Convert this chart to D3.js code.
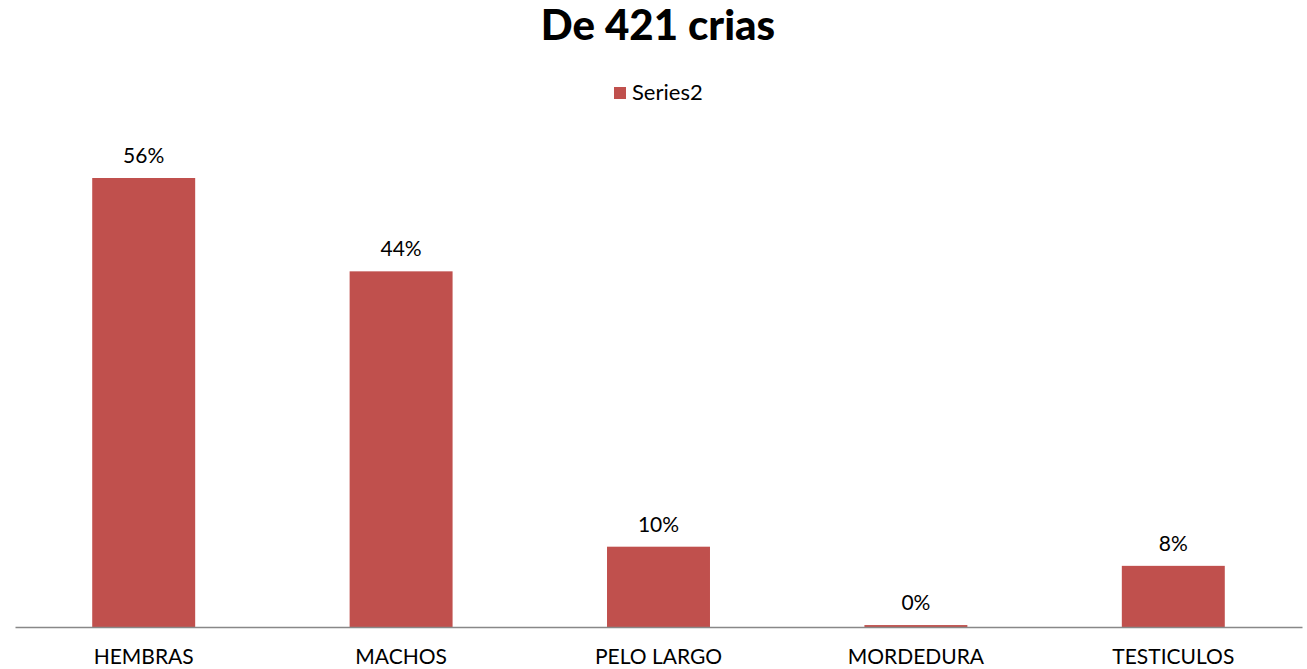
<!DOCTYPE html>
<html>
<head>
<meta charset="utf-8">
<script src="https://cdn.jsdelivr.net/npm/d3@7"></script>
<style>
  body { margin: 0; background: #fff; }
  svg text { font-family: "Lato", "Open Sans", sans-serif; fill: #000; }
</style>
</head>
<body>
<script>
var categories = ["HEMBRAS", "MACHOS", "PELO LARGO", "MORDEDURA", "TESTICULOS"];
var values = [0.558, 0.442, 0.0998, 0.0024, 0.076];
var labels = ["56%", "44%", "10%", "0%", "8%"];
var seriesName = "Series2";

var w = 1307, h = 669;
var left = 15, right = 1302, baseY = 627;

var svg = d3.select("body").append("svg")
    .attr("width", w)
    .attr("height", h);

var data = categories.map(function(c, i) {
    return { cat: c, value: values[i], label: labels[i] };
});

var xScale = d3.scaleBand()
    .domain(categories)
    .range([left, right])
    .paddingInner(0.6)
    .paddingOuter(0.3);

var yScale = d3.scaleLinear()
    .domain([0, 0.558])
    .range([baseY, 178]);

// title
svg.append("text")
    .attr("x", 658)
    .attr("y", 40)
    .attr("text-anchor", "middle")
    .style("font-size", "42px")
    .style("font-weight", "900")
    .text("De 421 crias");

// legend
svg.append("rect")
    .attr("x", 614).attr("y", 87)
    .attr("width", 12).attr("height", 12)
    .attr("fill", "#C0504D");
svg.append("text")
    .attr("x", 632).attr("y", 100)
    .style("font-size", "22px")
    .text(seriesName);

// bars
svg.selectAll(".bar")
    .data(data)
    .enter().append("rect")
    .attr("class", "bar")
    .attr("x", function(d) { return xScale(d.cat); })
    .attr("y", function(d) { return yScale(d.value); })
    .attr("width", xScale.bandwidth())
    .attr("height", function(d) { return baseY - yScale(d.value); })
    .attr("fill", "#C0504D");

// value labels
svg.selectAll(".val")
    .data(data)
    .enter().append("text")
    .attr("class", "val")
    .attr("x", function(d) { return xScale(d.cat) + xScale.bandwidth() / 2; })
    .attr("y", function(d) { return yScale(d.value) - 15; })
    .attr("text-anchor", "middle")
    .style("font-size", "21px")
    .text(function(d) { return d.label; });

// x axis
var xAxis = svg.append("g")
    .attr("transform", "translate(0," + baseY + ")")
    .call(d3.axisBottom(xScale).tickSize(0).tickPadding(22));
xAxis.select(".domain").attr("stroke", "#888").attr("stroke-width", 1.5);
xAxis.selectAll("text")
    .style("font-size", "21px")
    .style("font-family", "Lato, sans-serif")
    .attr("fill", "#000");
</script>
</body>
</html>
